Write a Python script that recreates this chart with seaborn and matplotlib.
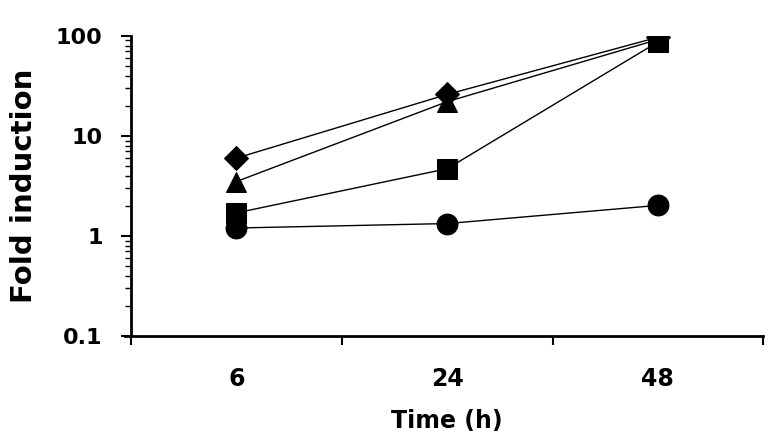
import numpy as np
import pandas as pd
import matplotlib
matplotlib.use('Agg')
import matplotlib.pyplot as plt
import seaborn as sns
from matplotlib.ticker import FixedLocator, LogLocator, NullFormatter

# Datos
tiempos = ['6', '24', '48']
rombo = [6.0, 26.0, 97.0]
triangulo = [3.5, 22.0, 92.0]
cuadrado = [1.7, 4.7, 87.0]
circulo = [1.2, 1.33, 2.02]

series = [('rombo', rombo, 'D', 12), ('triangulo', triangulo, '^', 15),
          ('cuadrado', cuadrado, 's', 14), ('circulo', circulo, 'o', 15)]

sns.set_style('ticks', {'axes.edgecolor': 'black', 'text.color': 'black',
                        'xtick.color': 'black', 'ytick.color': 'black',
                        'axes.labelcolor': 'black'})
plt.rcParams['font.family'] = ['DejaVu Sans']

fig = plt.figure(figsize=(7.71, 4.38), dpi=100)
ax = fig.add_axes([0.170, 0.233, 0.820, 0.685])

for nombre, valores, marca, tam in series:
    df = pd.DataFrame({'Tiempo': tiempos, 'Fold': valores})
    sns.lineplot(data=df, x='Tiempo', y='Fold', ax=ax, color='black', linewidth=1,
                 marker=marca, markersize=tam, markeredgecolor='black',
                 markerfacecolor='black', sort=False)

ax.set_yscale('log')
ax.set_ylim(0.1, 100)
ax.set_xlim(-0.5, 2.5)

# ejes
ax.yaxis.set_major_locator(FixedLocator([0.1, 1, 10, 100]))
ax.set_yticklabels(['0.1', '1', '10', '100'])
ax.yaxis.set_minor_locator(LogLocator(base=10, subs=np.arange(2, 10)))
ax.yaxis.set_minor_formatter(NullFormatter())
ax.tick_params(axis='y', which='major', length=7.5, width=1.5, labelsize=16, pad=13)
ax.tick_params(axis='y', which='minor', length=4.5, width=1)

ax.xaxis.set_major_locator(FixedLocator([-0.5, 0.5, 1.5, 2.5]))
ax.xaxis.set_major_formatter(NullFormatter())
ax.xaxis.set_minor_locator(FixedLocator([0, 1, 2]))
ax.set_xticklabels(tiempos, minor=True)
ax.tick_params(axis='x', which='major', length=6.5, width=1.5)
ax.tick_params(axis='x', which='minor', length=0, labelsize=17, pad=22)

for lbl in ax.get_yticklabels() + ax.get_xticklabels(minor=True):
    lbl.set_fontweight('bold')

for lado in ['top', 'right']:
    ax.spines[lado].set_visible(False)
for lado in ['left', 'bottom']:
    ax.spines[lado].set_linewidth(2)
ax.spines['bottom'].set_bounds(-0.53, 2.5)

ax.set_xlabel('Time (h)', fontsize=17, fontweight='bold', labelpad=13)
ax.set_ylabel('Fold induction', fontsize=21, fontweight='bold', labelpad=12.5)

fig.savefig('out.png', dpi=100)
